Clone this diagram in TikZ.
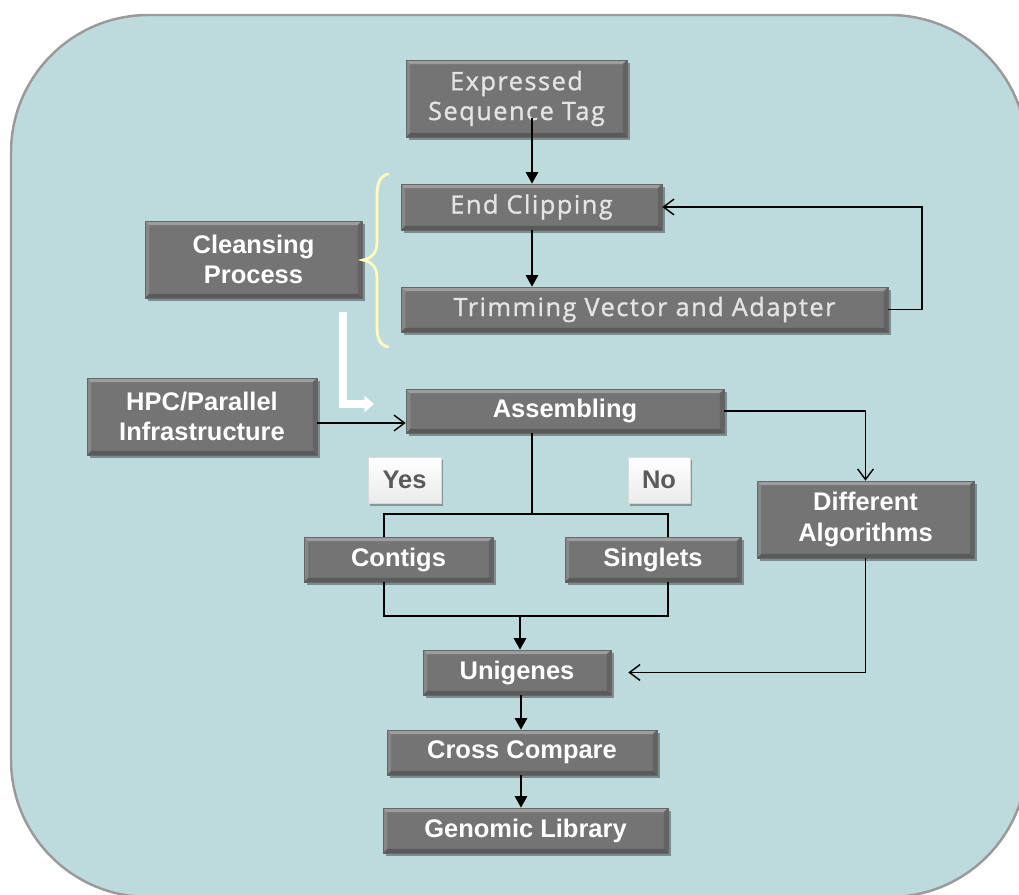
\documentclass[tikz,border=0pt]{standalone}
\usepackage{fontspec}
\setmainfont{Liberation Sans}
\newfontfamily\lightfont[LetterSpace=6, FakeBold=1.1]{Open Sans}
\usetikzlibrary{arrows.meta,shadows,calc}

\definecolor{panel}{HTML}{BDDADC}
\definecolor{panelrim}{HTML}{9A9A9A}
\definecolor{boxfill}{HTML}{747474}
\definecolor{boxrim}{HTML}{666666}
\definecolor{bracecol}{HTML}{FFFBC0}
\definecolor{tagtext}{HTML}{5A5A5A}
\definecolor{softtext}{HTML}{E4E4E4}

\tikzset{
  bevel/.style={path picture={
    \fill[white,opacity=0.30] (path picture bounding box.north west) -- (path picture bounding box.north east)
      -- ($(path picture bounding box.north east)+(-2.4pt,-2.4pt)$) -- ($(path picture bounding box.north west)+(2.4pt,-2.4pt)$) -- cycle;
    \fill[white,opacity=0.14] (path picture bounding box.north west) -- ($(path picture bounding box.north west)+(2.4pt,-2.4pt)$)
      -- ($(path picture bounding box.south west)+(2.4pt,2.4pt)$) -- (path picture bounding box.south west) -- cycle;
    \fill[black,opacity=0.22] (path picture bounding box.south west) -- (path picture bounding box.south east)
      -- ($(path picture bounding box.south east)+(-2.4pt,2.4pt)$) -- ($(path picture bounding box.south west)+(2.4pt,2.4pt)$) -- cycle;
    \fill[black,opacity=0.14] (path picture bounding box.north east) -- ($(path picture bounding box.north east)+(-2.4pt,-2.4pt)$)
      -- ($(path picture bounding box.south east)+(-2.4pt,2.4pt)$) -- (path picture bounding box.south east) -- cycle;
  }},
  gbox/.style={rectangle, fill=boxfill, draw=boxrim, line width=0.4pt, bevel,
    drop shadow={shadow xshift=1.6pt, shadow yshift=-1.8pt, opacity=0.35, fill=black},
    inner sep=0pt, align=center},
  boldbox/.style={gbox, text=white, font=\bfseries\fontsize{14.5}{17.5}\selectfont},
  softbox/.style={gbox, text=softtext, font=\lightfont\fontsize{14.4}{17}\selectfont},
  tagbox/.style={rectangle, draw=black!15, line width=0.4pt, top color=white, bottom color=black!8,
    drop shadow={shadow xshift=1.4pt, shadow yshift=-1.6pt, opacity=0.3, fill=black},
    inner sep=0pt, text=tagtext, font=\bfseries\fontsize{14.5}{17}\selectfont,
    minimum height=0.92cm},
  flow/.style={line width=0.8pt, draw=black},
  tri/.style={flow, -{Triangle[length=6.5pt,width=7pt]}},
  barb/.style={flow, -{Straight Barb[length=6pt,width=9pt]}},
}

\begin{document}
\begin{tikzpicture}[x=0.02cm,y=-0.02cm]
  \useasboundingbox (0,0) rectangle (1019,895);
  \clip (0,0) rectangle (1019,895);

  % background panel
  \draw[panelrim, fill=panel, line width=1.4pt, rounded corners=2.75cm] (11,15) rectangle (1027,897);

  % process boxes
  \node[softbox, minimum width=4.42cm, minimum height=1.54cm] (est) at (516.5,98.5) {Expressed\\Sequence Tag};
  \node[softbox, minimum width=5.22cm, minimum height=0.92cm] (clip) at (531.5,207) {End Clipping};
  \node[softbox, minimum width=9.74cm, minimum height=0.90cm] (trim) at (644.5,309.5) {Trimming Vector and Adapter};
  \node[boldbox, minimum width=4.34cm, minimum height=1.54cm] (cleanse) at (253.5,259.5) {Cleansing\\Process};
  \node[boldbox, minimum width=4.60cm, minimum height=1.54cm] (hpc) at (202,416.5) {HPC/Parallel\\Infrastructure};
  \node[boldbox, minimum width=6.36cm, minimum height=0.88cm] (asm) at (565,411) {Assembling};
  \node[boldbox, minimum width=4.34cm, minimum height=1.54cm] (diff) at (865.5,519.5) {Different\\Algorithms};
  \node[boldbox, minimum width=3.78cm, minimum height=0.90cm] (contigs) at (398.5,559.5) {Contigs};
  \node[boldbox, minimum width=3.52cm, minimum height=0.90cm] (singlets) at (653,559.5) {Singlets};
  \node[boldbox, minimum width=3.76cm, minimum height=0.90cm] (uni) at (517,672.5) {Unigenes};
  \node[boldbox, minimum width=5.40cm, minimum height=0.90cm] (cross) at (522,752.5) {Cross Compare};
  \node[boldbox, minimum width=5.70cm, minimum height=0.90cm] (lib) at (525.5,830.5) {Genomic Library};

  % branch labels
  \node[tagbox, minimum width=1.46cm] (yes) at (404.5,480) {Yes};
  \node[tagbox, minimum width=1.24cm] (no) at (659,480) {No};

  % brace grouping the cleansing steps
  \draw[bracecol, line width=1.6pt, line cap=round]
    (388,174) .. controls (380,176) and (377,183) .. (377,196) -- (377,242)
    .. controls (377,253) and (372,258) .. (363,260)
    .. controls (372,262) and (377,267) .. (377,278) -- (377,326)
    .. controls (377,339) and (380,345) .. (388,347);

  % white hand-off arrow into assembling
  \coordinate (wtop) at (343,312);
  \coordinate (wtip) at (374,404);
  \draw[white, line width=4.6pt, -{Triangle[length=5.5pt,width=9pt]}] (wtop) |- (wtip);

  % connectors
  \coordinate (estfoot) at (532,118);
  \draw[tri] (estfoot) -- (estfoot |- clip.north);
  \draw[tri] (clip.south -| estfoot) -- (trim.north -| estfoot);
  \coordinate (loop) at (922,0);
  \draw[barb] (trim.east) -- (trim.east -| loop) |- (clip.east);

  \draw[barb] (hpc.east |- 0,423) -- (asm.west |- 0,423);
  \draw[barb] (asm.east) -| (diff.north);
  \draw[barb, shorten >=0.34cm] (diff.south) |- (uni.east);

  \coordinate (split) at (532,514);
  \coordinate (cl) at (384,514);
  \coordinate (cr) at (668,514);
  \draw[flow] (asm.south -| split) -- (split);
  \draw[flow] (cl |- contigs.north) -- (cl) -- (cr) -- (cr |- singlets.north);

  \coordinate (bl) at (384,616);
  \coordinate (br) at (668,616);
  \coordinate (merge) at (520,616);
  \draw[flow] (contigs.south -| bl) -- (bl) -- (br) -- (singlets.south -| br);
  \draw[tri] (merge) -- (merge |- uni.north);

  \coordinate (mid) at (521,0);
  \draw[tri] (uni.south -| mid) -- (cross.north -| mid);
  \draw[tri] (cross.south -| mid) -- (lib.north -| mid);
\end{tikzpicture}
\end{document}
